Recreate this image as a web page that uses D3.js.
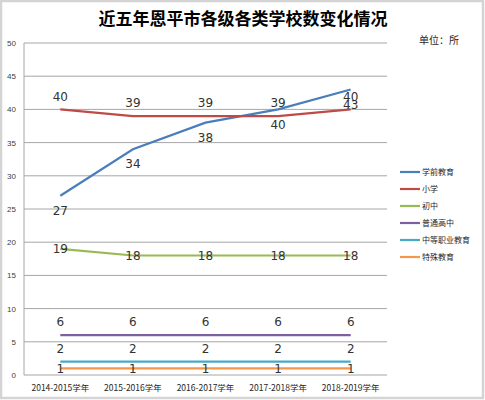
<!DOCTYPE html>
<html>
<head>
<meta charset="utf-8">
<script src="https://cdn.jsdelivr.net/npm/d3@7"></script>
<style>
  body { margin: 0; background: #fff; }
  svg { display: block; }
</style>
</head>
<body>
<svg id="chart" width="485" height="400"></svg>
<script>
// data
const years = ["2014-2015学年", "2015-2016学年", "2016-2017学年", "2017-2018学年", "2018-2019学年"];
const seriesNames = ["学前教育", "小学", "初中", "普通高中", "中等职业教育", "特殊教育"];
const preschool = [27, 34, 38, 40, 43];
const primary = [40, 39, 39, 39, 40];
const junior = [19, 18, 18, 18, 18];
const senior = [6, 6, 6, 6, 6];
const vocational = [2, 2, 2, 2, 2];
const special = [1, 1, 1, 1, 1];
const yTicks = [0, 5, 10, 15, 20, 25, 30, 35, 40, 45, 50];

const colors = ["#4a7ebb", "#be4b48", "#98b954", "#7d60a0", "#46aac5", "#f79646"];
// where the value label sits relative to the point
const labelPos = ["below", "above", "center", "above", "above", "center"];
const allSeries = [preschool, primary, junior, senior, vocational, special];

const margin = { top: 43, left: 24, right: 98, bottom: 25 };
const W = 485, H = 400;

const svg = d3.select("#chart");

// outer border
svg.append("rect")
  .attr("x", 1).attr("y", 1)
  .attr("width", W - 3).attr("height", H - 3)
  .attr("fill", "#fff")
  .attr("stroke", "#d4d4d4")
  .attr("stroke-width", 2.5);

const x = d3.scaleBand()
  .domain(years)
  .range([margin.left, W - margin.right]);

const y = d3.scaleLinear()
  .domain([0, 50])
  .range([H - margin.bottom, margin.top]);

// gridlines
svg.append("g")
  .selectAll("line")
  .data(yTicks)
  .enter()
  .append("line")
  .attr("x1", margin.left)
  .attr("x2", W - margin.right)
  .attr("y1", (d) => y(d))
  .attr("y2", (d) => y(d))
  .attr("stroke", "#a6a6a6")
  .attr("stroke-width", 1);

// left axis line
svg.append("line")
  .attr("x1", margin.left).attr("x2", margin.left)
  .attr("y1", y(50)).attr("y2", y(0))
  .attr("stroke", "#a6a6a6");

// y tick labels
const yAxis = d3.axisLeft(y).tickValues(yTicks).tickSize(0).tickPadding(8);
const gy = svg.append("g")
  .attr("transform", `translate(${margin.left},0)`)
  .call(yAxis);
gy.select(".domain").remove();
gy.selectAll("text")
  .attr("font-family", "Liberation Sans, Arial, sans-serif")
  .attr("font-size", 8)
  .attr("fill", "#404040");

// x tick labels
const xAxis = d3.axisBottom(x).tickSize(0).tickPadding(10);
const gx = svg.append("g")
  .attr("transform", `translate(0,${y(0)})`)
  .call(xAxis);
gx.select(".domain").remove();
gx.selectAll("text")
  .attr("font-family", "Noto Sans CJK SC, sans-serif")
  .attr("font-size", 8.5)
  .attr("fill", "#262626");

const line = d3.line()
  .x((d, i) => x(years[i]) + x.bandwidth() / 2)
  .y((d) => y(d));

// lines
allSeries.forEach((vals, s) => {
  svg.append("path")
    .datum(vals)
    .attr("d", line)
    .attr("fill", "none")
    .attr("stroke", colors[s])
    .attr("stroke-width", 2.2);
});

// value labels
allSeries.forEach((vals, s) => {
  const dy = labelPos[s] === "above" ? -13 : labelPos[s] === "below" ? 15 : 0;
  svg.append("g")
    .selectAll("text")
    .data(vals)
    .enter()
    .append("text")
    .attr("x", (d, i) => x(years[i]) + x.bandwidth() / 2)
    .attr("y", (d) => y(d) + dy)
    .attr("dy", "0.35em")
    .attr("text-anchor", "middle")
    .attr("font-family", "DejaVu Sans, sans-serif")
    .attr("font-size", 12)
    .attr("fill", "#333")
    .text((d) => d);
});

// title
svg.append("text")
  .attr("x", 243).attr("y", 25)
  .attr("text-anchor", "middle")
  .attr("font-family", "Noto Sans CJK SC, sans-serif")
  .attr("font-weight", "bold")
  .attr("font-size", 17)
  .attr("fill", "#000")
  .text("近五年恩平市各级各类学校数变化情况");

// unit
svg.append("text")
  .attr("x", 419).attr("y", 44)
  .attr("font-family", "Noto Sans CJK SC, sans-serif")
  .attr("font-size", 10)
  .attr("fill", "#262626")
  .text("单位：所");

// legend
const legend = svg.append("g")
  .selectAll("g")
  .data(seriesNames)
  .enter()
  .append("g")
  .attr("transform", (d, i) => `translate(400,${172 + i * 17})`);
legend.append("line")
  .attr("x1", 0).attr("x2", 20)
  .attr("stroke", (d, i) => colors[i])
  .attr("stroke-width", 2.2);
legend.append("text")
  .attr("x", 22)
  .attr("dy", "0.35em")
  .attr("font-family", "Noto Sans CJK SC, sans-serif")
  .attr("font-size", 8)
  .attr("fill", "#262626")
  .text((d) => d);
</script>
</body>
</html>
